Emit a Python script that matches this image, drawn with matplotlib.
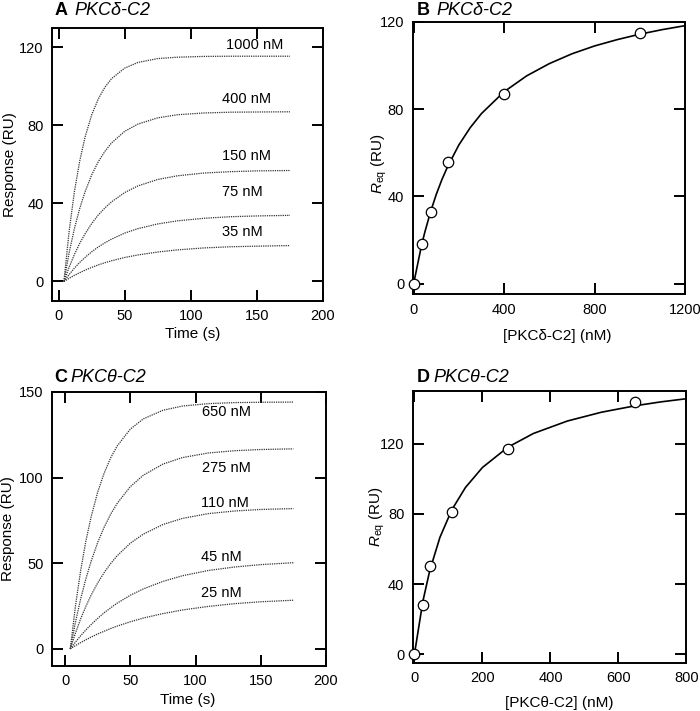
import matplotlib.pyplot as plt

plt.rcParams['font.family'] = ['Liberation Sans', 'DejaVu Sans']
plt.rcParams['mathtext.fontset'] = 'custom'
plt.rcParams['mathtext.rm'] = 'Liberation Sans'
plt.rcParams['mathtext.it'] = 'Liberation Sans:italic'

# tempo (s) dos sensorgramas
tempo = [4, 8, 12, 16, 20, 25, 30, 35, 40, 50, 60, 75, 90, 110, 130, 150, 175]

# PKCdelta-C2, resposta (RU)
delta_nomes = ['1000 nM', '400 nM', '150 nM', '75 nM', '35 nM']
delta_1000 = [0, 26.1, 46.3, 61.9, 74.0, 85.4, 93.6, 99.6, 104.0, 109.4, 112.3, 114.3, 115.0, 115.4, 115.5, 115.5, 115.5]
delta_400 = [0, 14.9, 27.3, 37.5, 46.0, 54.6, 61.4, 66.7, 71.0, 77.0, 80.7, 83.9, 85.5, 86.4, 86.8, 86.9, 87.0]
delta_150 = [0, 7.4, 13.9, 19.6, 24.4, 29.7, 34.1, 37.7, 40.8, 45.6, 49.0, 52.3, 54.2, 55.6, 56.3, 56.7, 56.9]
delta_75 = [0, 3.6, 6.9, 9.8, 12.3, 15.2, 17.7, 19.8, 21.7, 24.8, 27.1, 29.5, 31.1, 32.4, 33.2, 33.6, 33.9]
delta_35 = [0, 1.65, 3.16, 4.5, 5.8, 7.2, 8.5, 9.6, 10.6, 12.3, 13.6, 15.1, 16.2, 17.2, 17.8, 18.1, 18.4]

# PKCtheta-C2, resposta (RU)
theta_nomes = ['650 nM', '275 nM', '110 nM', '45 nM', '25 nM']
theta_650 = [0, 25.2, 45.9, 63.1, 77.2, 91.5, 102.7, 111.6, 118.5, 128.3, 134.3, 139.3, 141.8, 143.2, 143.8, 144.0, 144.1]
theta_275 = [0, 15.7, 29.3, 41.0, 51.2, 62.1, 71.1, 78.7, 85.0, 94.7, 101.4, 107.9, 111.7, 114.4, 115.7, 116.4, 116.8]
theta_110 = [0, 9.3, 17.6, 24.9, 31.4, 38.5, 44.6, 49.9, 54.4, 61.7, 67.0, 72.6, 76.2, 79.0, 80.5, 81.4, 81.9]
theta_45 = [0, 4.0, 7.7, 11.1, 14.2, 17.8, 21.1, 24.0, 26.7, 31.3, 35.0, 39.4, 42.7, 45.8, 47.8, 49.2, 50.3]
theta_25 = [0, 1.9, 3.7, 5.3, 6.9, 8.7, 10.3, 11.9, 13.3, 15.8, 18.0, 20.6, 22.7, 24.8, 26.4, 27.5, 28.4]

# equilibrio
delta_c = [0, 35, 75, 150, 400, 1000]
delta_req = [0, 18, 33, 56, 87, 115]
delta_fit_c = [0, 35, 50, 75, 100, 125, 150, 200, 250, 300, 400, 500, 600, 700, 800, 900, 1000, 1100, 1200]
delta_fit_r = [0, 17.6, 23.8, 33.0, 40.9, 47.7, 53.6, 63.6, 71.5, 78.0, 88.0, 95.3, 100.9, 105.4, 109.0, 111.9, 114.4, 116.5, 118.3]

theta_c = [0, 25, 45, 110, 275, 650]
theta_req = [0, 28, 50, 81, 117, 144]
theta_fit_c = [0, 25, 45, 75, 110, 150, 200, 275, 350, 450, 550, 650, 725, 800]
theta_fit_r = [0, 30.3, 47.6, 66.6, 82.3, 95.0, 106.4, 118.0, 125.8, 132.9, 137.9, 141.6, 143.8, 145.6]

# posicao dos rotulos das curvas (s, RU)
delta_rot = [(148, 121), (142, 93.8), (142, 64.4), (139, 45.7), (139, 25.6)]
theta_rot = [(123.6, 138.2), (123.6, 105.9), (122.6, 85.3), (119.7, 53.5), (119.7, 32.4)]


def estilo(ax, xlim, ylim, xticks, yticks):
    ax.set_xlim(xlim)
    ax.set_ylim(ylim)
    ax.set_xticks(xticks)
    ax.set_yticks(yticks)
    ax.tick_params(direction='in', length=8, width=1.4, top=True, right=True,
                   labelsize=10.5, pad=6)
    for s in ax.spines.values():
        s.set_linewidth(1.4)


fig = plt.figure(figsize=(7, 7.11), dpi=100)

axA = fig.add_axes([0.0743, 0.5767, 0.3871, 0.3840])
axB = fig.add_axes([0.5893, 0.5858, 0.3893, 0.3833])
axC = fig.add_axes([0.0743, 0.0633, 0.3914, 0.3854])
axD = fig.add_axes([0.5896, 0.0675, 0.3911, 0.3826])

# A
for serie, nome, pos in zip([delta_1000, delta_400, delta_150, delta_75, delta_35], delta_nomes, delta_rot):
    axA.plot(tempo, serie, color='0.2', lw=0.9, ls=(0, (1, 0.8)))
    axA.text(pos[0], pos[1], nome, ha='center', va='center', fontsize=10.5)
estilo(axA, (-5, 200), (-10, 130), [0, 50, 100, 150, 200], [0, 40, 80, 120])
axA.set_xlabel('Time (s)', fontsize=11)
axA.set_ylabel('Response (RU)', fontsize=11)
axA.xaxis.set_label_coords(0.52, -0.095)
axA.yaxis.set_label_coords(-0.129, 0.5)

# C
for serie, nome, pos in zip([theta_650, theta_275, theta_110, theta_45, theta_25], theta_nomes, theta_rot):
    axC.plot(tempo, serie, color='0.2', lw=0.9, ls=(0, (1, 0.8)))
    axC.text(pos[0], pos[1], nome, ha='center', va='center', fontsize=10.5)
estilo(axC, (-10, 200), (-10, 150), [0, 50, 100, 150, 200], [0, 50, 100, 150])
axC.set_xlabel('Time (s)', fontsize=11)
axC.set_ylabel('Response (RU)', fontsize=11)
axC.xaxis.set_label_coords(0.496, -0.0985)
axC.yaxis.set_label_coords(-0.135, 0.5)

# B
axB.plot(delta_fit_c, delta_fit_r, color='black', lw=1.2)
axB.plot(delta_c, delta_req, 'o', ms=7.5, mfc='white', mec='black', mew=0.9,
         clip_on=False, zorder=5)
estilo(axB, (-5, 1200), (-5, 120), [0, 400, 800, 1200], [0, 40, 80, 120])
axB.set_xlabel('[PKCδ-C2] (nM)', fontsize=11)
axB.set_ylabel(r'$\mathit{R}_{\mathrm{eq}}$ (RU)', fontsize=11)
axB.xaxis.set_label_coords(0.53, -0.125)
axB.yaxis.set_label_coords(-0.085, 0.48)

# D
axD.plot(theta_fit_c, theta_fit_r, color='black', lw=1.2)
axD.plot(theta_c, theta_req, 'o', ms=7.5, mfc='white', mec='black', mew=0.9,
         clip_on=False, zorder=5)
estilo(axD, (-5, 800), (-5, 150), [0, 200, 400, 600, 800], [0, 40, 80, 120])
axD.set_xlabel('[PKCθ-C2] (nM)', fontsize=11)
axD.set_ylabel(r'$\mathit{R}_{\mathrm{eq}}$ (RU)', fontsize=11)
axD.xaxis.set_label_coords(0.535, -0.121)
axD.yaxis.set_label_coords(-0.095, 0.537)

# titulos dos paineis
fig.text(0.0786, 0.985, 'A', fontsize=13, fontweight='bold', va='center')
fig.text(0.107, 0.985, 'PKCδ-C2', fontsize=13, style='italic', va='center')
fig.text(0.596, 0.985, 'B', fontsize=13, fontweight='bold', va='center')
fig.text(0.623, 0.985, 'PKCδ-C2', fontsize=13, style='italic', va='center')
fig.text(0.077, 0.469, 'C', fontsize=13, fontweight='bold', va='center')
fig.text(0.100, 0.469, 'PKCθ-C2', fontsize=13, style='italic', va='center')
fig.text(0.596, 0.469, 'D', fontsize=13, fontweight='bold', va='center')
fig.text(0.619, 0.469, 'PKCθ-C2', fontsize=13, style='italic', va='center')

fig.savefig('out.png', dpi=100)
